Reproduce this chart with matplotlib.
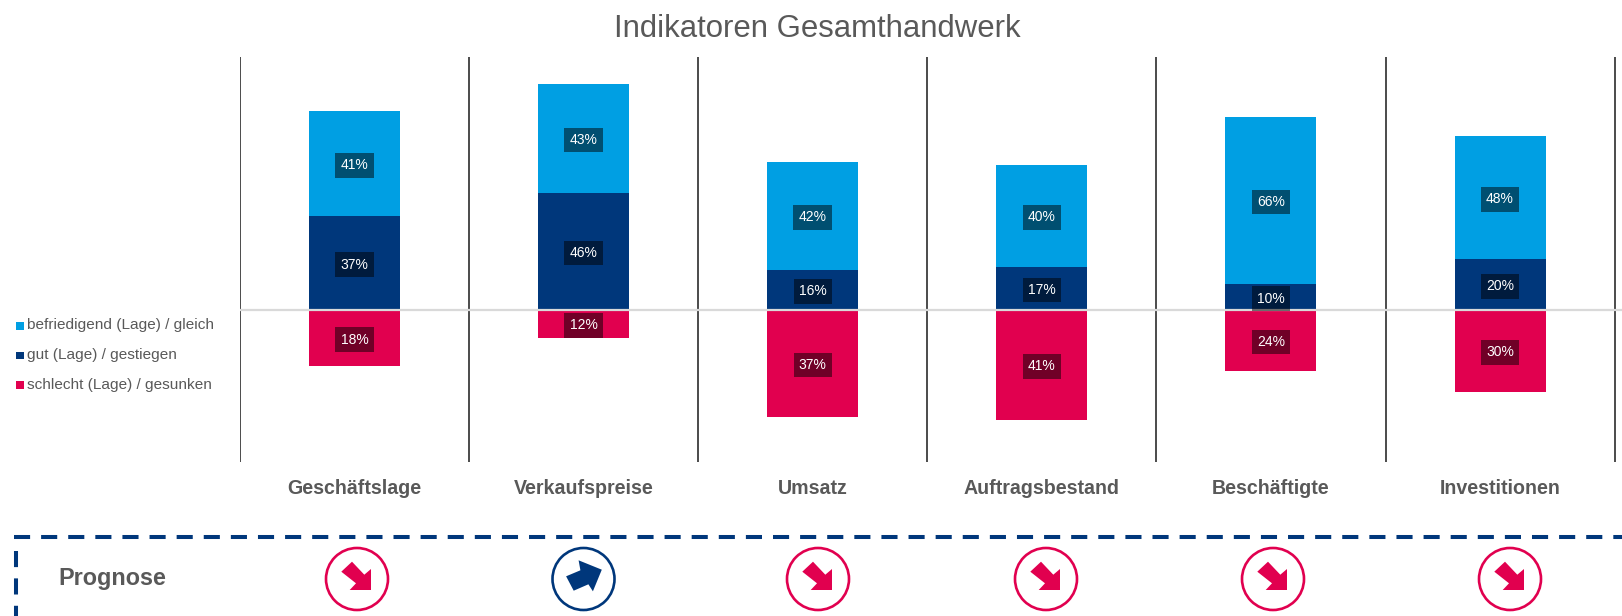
import matplotlib
matplotlib.use("Agg")
from matplotlib import pyplot as plt
from matplotlib.patches import Circle, Polygon, Rectangle

plt.rcParams['font.family'] = ['Liberation Sans', 'DejaVu Sans']

categories = ["Geschäftslage", "Verkaufspreise", "Umsatz", "Auftragsbestand", "Beschäftigte", "Investitionen"]

# bar heights (the red bars are not quite to scale with their labels)
gut = [36.8, 45.7, 15.8, 17.0, 10.1, 19.8]
befriedigend = [40.9, 42.9, 42.1, 39.7, 65.6, 48.2]
schlecht = [21.9, 10.9, 41.7, 42.9, 23.9, 32.0]

gut_labels = ["37%", "46%", "16%", "17%", "10%", "20%"]
befriedigend_labels = ["41%", "43%", "42%", "40%", "66%", "48%"]
schlecht_labels = ["18%", "12%", "37%", "41%", "24%", "30%"]

legend_labels = ["befriedigend (Lage) / gleich", "gut (Lage) / gestiegen", "schlecht (Lage) / gesunken"]
prognose = ["down", "up", "down", "down", "down", "down"]
prognose_x = [357, 583.5, 818, 1046, 1273, 1510]

W, H = 1622, 616
LIGHT = "#009FE3"
DARK = "#00377B"
RED = "#E1004F"
GREY = "#595959"

fig = plt.figure(figsize=(W / 100, H / 100), dpi=100)

# main axes, placed in pixels of the figure
left, right, top, bottom = 240, W, 57, 462
ax = fig.add_axes([left / W, 1 - bottom / H, (right - left) / W, (bottom - top) / H])
ax.set_xlim(-0.5, (right - left) / 229.1 - 0.5)
ax.set_ylim(-(bottom - 310) / 2.555, (310 - top) / 2.555)
ax.axis("off")

x = range(len(categories))
ax.bar(x, gut, width=0.397, color=DARK, zorder=2)
ax.bar(x, befriedigend, width=0.397, bottom=gut, color=LIGHT, zorder=2)
ax.bar(x, [-v for v in schlecht], width=0.397, color=RED, zorder=2)

for i in range(len(categories) + 1):
    ax.axvline(i - 0.5, color="#1A1A1A", lw=1.1, zorder=1)
ax.axhline(0, color="#D9D9D9", lw=1.6, zorder=3)


def value_label(xpos, ypos, s):
    ax.text(xpos, ypos - 0.6, s, ha="center", va="center", color="white", fontsize=10, zorder=5,
            bbox=dict(boxstyle="square,pad=0.38", fc="black", ec="none", alpha=0.5))


for i in x:
    value_label(i, gut[i] / 2, gut_labels[i])
    value_label(i, gut[i] + befriedigend[i] / 2, befriedigend_labels[i])
    value_label(i, -schlecht[i] / 2, schlecht_labels[i])
    ax.text(i, -(488 - 310) / 2.555, categories[i], ha="center", va="center", clip_on=False,
            color=GREY, fontsize=14.1, fontweight="bold")

# overlay in pixel coordinates for legend, title and prognosis row
ov = fig.add_axes([0, 0, 1, 1])
ov.set_xlim(0, W)
ov.set_ylim(H, 0)
ov.axis("off")
ov.patch.set_alpha(0)

ov.text(817, 29, "Indikatoren Gesamthandwerk", ha="center", va="center", color=GREY, fontsize=22.4)

for label, col, y in zip(legend_labels, [LIGHT, DARK, RED], [325.5, 355, 384.5]):
    ov.add_patch(Rectangle((16, y - 3.5), 7.5, 7.5, color=col, lw=0))
    ov.text(27, y, label, ha="left", va="center", color=GREY, fontsize=11.1)

ov.plot([14, W], [537, 537], color=DARK, lw=2.9, dashes=(4, 2.73), dash_capstyle="butt")
ov.plot([15.5, 15.5], [551, H], color=DARK, lw=2.9, dashes=(4, 2.8), dash_capstyle="butt")
ov.text(58, 579, "Prognose", ha="left", va="center", color=GREY, fontsize=16.8, fontweight="bold")

arrow_down = [(-15.7, -7.3), (-5, -17.3), (7.3, -4.3), (14, -10), (14, 11), (-7.3, 11), (-1, 4.3)]
arrow_up = [(-17.4, -2.7), (-9.8, 11.7), (4.9, 5.3), (9.4, 12.3), (18.3, -9.3), (-4.9, -18.7), (-3.1, -8.7)]

for cx, p in zip(prognose_x, prognose):
    col = RED if p == "down" else DARK
    shape = arrow_down if p == "down" else arrow_up
    ov.add_patch(Circle((cx, 579), 31, fc="white", ec=col, lw=1.9))
    ov.add_patch(Polygon([(cx + a, 579 + b) for a, b in shape], closed=True, fc=col, ec="none"))

fig.savefig("out.png", dpi=100)
